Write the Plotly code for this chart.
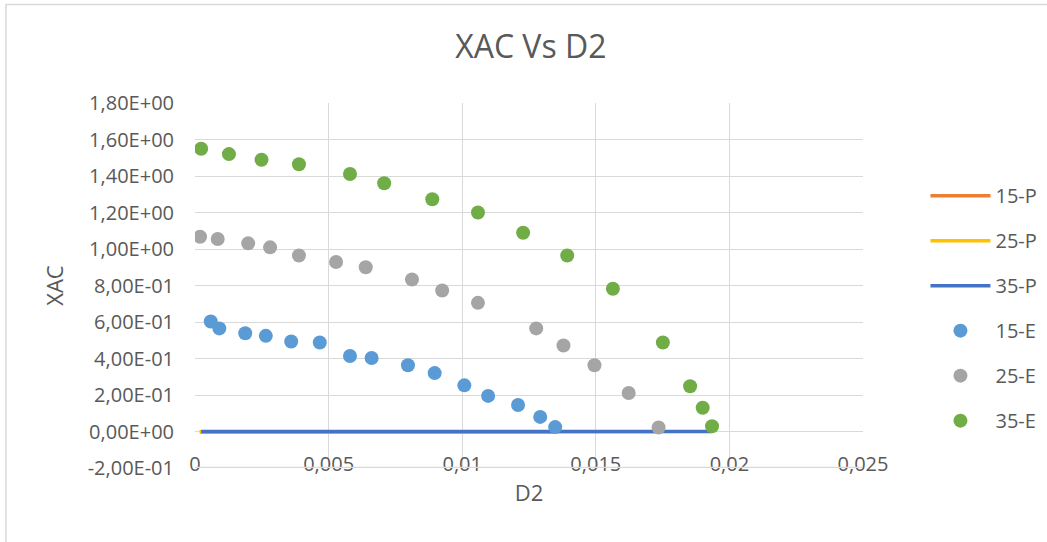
import plotly.graph_objects as go

# ---- data ----
x_15E = [0.00059, 0.00091, 0.00188, 0.00265, 0.0036, 0.00467, 0.0058, 0.00661, 0.00797, 0.00897, 0.01008, 0.01097, 0.01209, 0.01292, 0.01348]
y_15E = [0.603, 0.565, 0.538, 0.524, 0.493, 0.488, 0.414, 0.403, 0.363, 0.320, 0.253, 0.195, 0.145, 0.080, 0.024]

x_25E = [0.00019, 0.00085, 0.00199, 0.00281, 0.00389, 0.00528, 0.00639, 0.00812, 0.00925, 0.01059, 0.01277, 0.01379, 0.01495, 0.01623, 0.01735]
y_25E = [1.067, 1.055, 1.031, 1.009, 0.964, 0.929, 0.900, 0.833, 0.773, 0.705, 0.565, 0.471, 0.363, 0.211, 0.022]

x_35E = [0.00023, 0.00127, 0.00249, 0.00389, 0.0058, 0.00708, 0.00888, 0.01059, 0.01228, 0.01393, 0.01564, 0.01751, 0.01853, 0.019, 0.01935]
y_35E = [1.549, 1.520, 1.489, 1.464, 1.411, 1.360, 1.273, 1.200, 1.089, 0.964, 0.782, 0.488, 0.248, 0.130, 0.029]

x_15P = [0.00019, 0.00059, 0.00188, 0.0036, 0.0058, 0.00797, 0.01008, 0.01209, 0.01348]
y_15P = [-0.003, -0.003, -0.003, -0.003, -0.003, -0.003, -0.003, -0.003, -0.003]

x_25P = [0.00017, 0.00085, 0.00281, 0.00528, 0.00812, 0.01059, 0.01379, 0.01623, 0.01735]
y_25P = [-0.001, -0.001, -0.001, -0.001, -0.001, -0.001, -0.001, -0.001, -0.001]

x_35P = [0.00023, 0.00127, 0.00389, 0.00708, 0.01059, 0.01393, 0.01751, 0.019, 0.01935]
y_35P = [0.0, 0.0, 0.0, 0.0, 0.0, 0.0, 0.0, 0.0, 0.0]

x_tickvals = [0, 0.005, 0.01, 0.015, 0.02, 0.025]
x_ticktext = ["0", "0,005", "0,01", "0,015", "0,02", "0,025"]
y_tickvals = [-0.2, 0, 0.2, 0.4, 0.6, 0.8, 1.0, 1.2, 1.4, 1.6, 1.8]
y_ticktext = ["-2,00E-01", "0,00E+00", "2,00E-01", "4,00E-01", "6,00E-01", "8,00E-01",
              "1,00E+00", "1,20E+00", "1,40E+00", "1,60E+00", "1,80E+00"]

FONT = "Open Sans"
TXT = "#595959"
GRID = "#d9d9d9"

fig = go.Figure()
lw = 3.5
fig.add_trace(go.Scatter(x=x_15P, y=y_15P, mode="lines", name="15-P",
                         line=dict(color="#ED7D31", width=lw), legendgroup="a"))
fig.add_trace(go.Scatter(x=x_25P, y=y_25P, mode="lines", name="25-P",
                         line=dict(color="#FFC000", width=lw), legendgroup="b"))
fig.add_trace(go.Scatter(x=x_35P, y=y_35P, mode="lines", name="35-P",
                         line=dict(color="#4472C4", width=lw), legendgroup="c"))
ms = 14
fig.add_trace(go.Scatter(x=x_15E, y=y_15E, mode="markers", name="15-E",
                         marker=dict(color="#5B9BD5", size=ms), legendgroup="d"))
fig.add_trace(go.Scatter(x=x_25E, y=y_25E, mode="markers", name="25-E",
                         marker=dict(color="#A5A5A5", size=ms), legendgroup="e"))
fig.add_trace(go.Scatter(x=x_35E, y=y_35E, mode="markers", name="35-E",
                         marker=dict(color="#70AD47", size=ms), legendgroup="f"))

fig.update_layout(
    width=1047, height=542,
    margin=dict(l=195, r=184, t=103, b=74, autoexpand=False),
    paper_bgcolor="white", plot_bgcolor="white",
    font=dict(family=FONT, color=TXT, size=20),
    title=dict(text="XAC Vs D2", x=0.507, xref="container", font=dict(size=32, color=TXT),
               xanchor="center", y=0.914, yref="container", yanchor="middle"),
    showlegend=True,
    legend=dict(x=1.0935, xanchor="left", y=0.438, yanchor="middle",
                font=dict(size=20, color=TXT), tracegroupgap=16, itemwidth=60,
                bgcolor="rgba(0,0,0,0)"),
    xaxis=dict(range=[0, 0.025], tickvals=x_tickvals, ticktext=x_ticktext,
               showgrid=True, gridcolor=GRID, gridwidth=1, zeroline=False,
               showline=False, anchor="free", position=0.1,
               tickfont=dict(size=20, color=TXT), ticks="", ticklabelstandoff=18,
               title=dict(text="D2", font=dict(size=22, color=TXT), standoff=10)),
    xaxis2=dict(overlaying="x", matches="x", anchor="y", side="bottom",
                showline=True, linecolor=GRID, linewidth=1, showgrid=False,
                zeroline=False, showticklabels=False, ticks=""),
    yaxis=dict(range=[-0.2, 1.8], tickvals=y_tickvals, ticktext=y_ticktext,
               showgrid=True, gridcolor=GRID, gridwidth=1, zeroline=False,
               showline=False, ticks="", ticklabelstandoff=20,
               tickfont=dict(size=20, color=TXT),
               title=dict(text="XAC", font=dict(size=22, color=TXT), standoff=17)),
    shapes=[
        dict(type="rect", xref="paper", yref="paper",
             x0=-0.283, x1=1.6, y0=-0.5, y1=1.27,
             line=dict(color="#d9d9d9", width=1.5), fillcolor="rgba(0,0,0,0)",
             layer="below"),
        dict(type="line", xref="paper", yref="y", x0=0, x1=1,
             y0=y_tickvals[0] + 0.003, y1=y_tickvals[0] + 0.003,
             line=dict(color=GRID, width=1.2), layer="above"),
    ],
)

fig.write_html("out.html", config={"displayModeBar": False},
               post_script="document.body.style.margin='0';")
